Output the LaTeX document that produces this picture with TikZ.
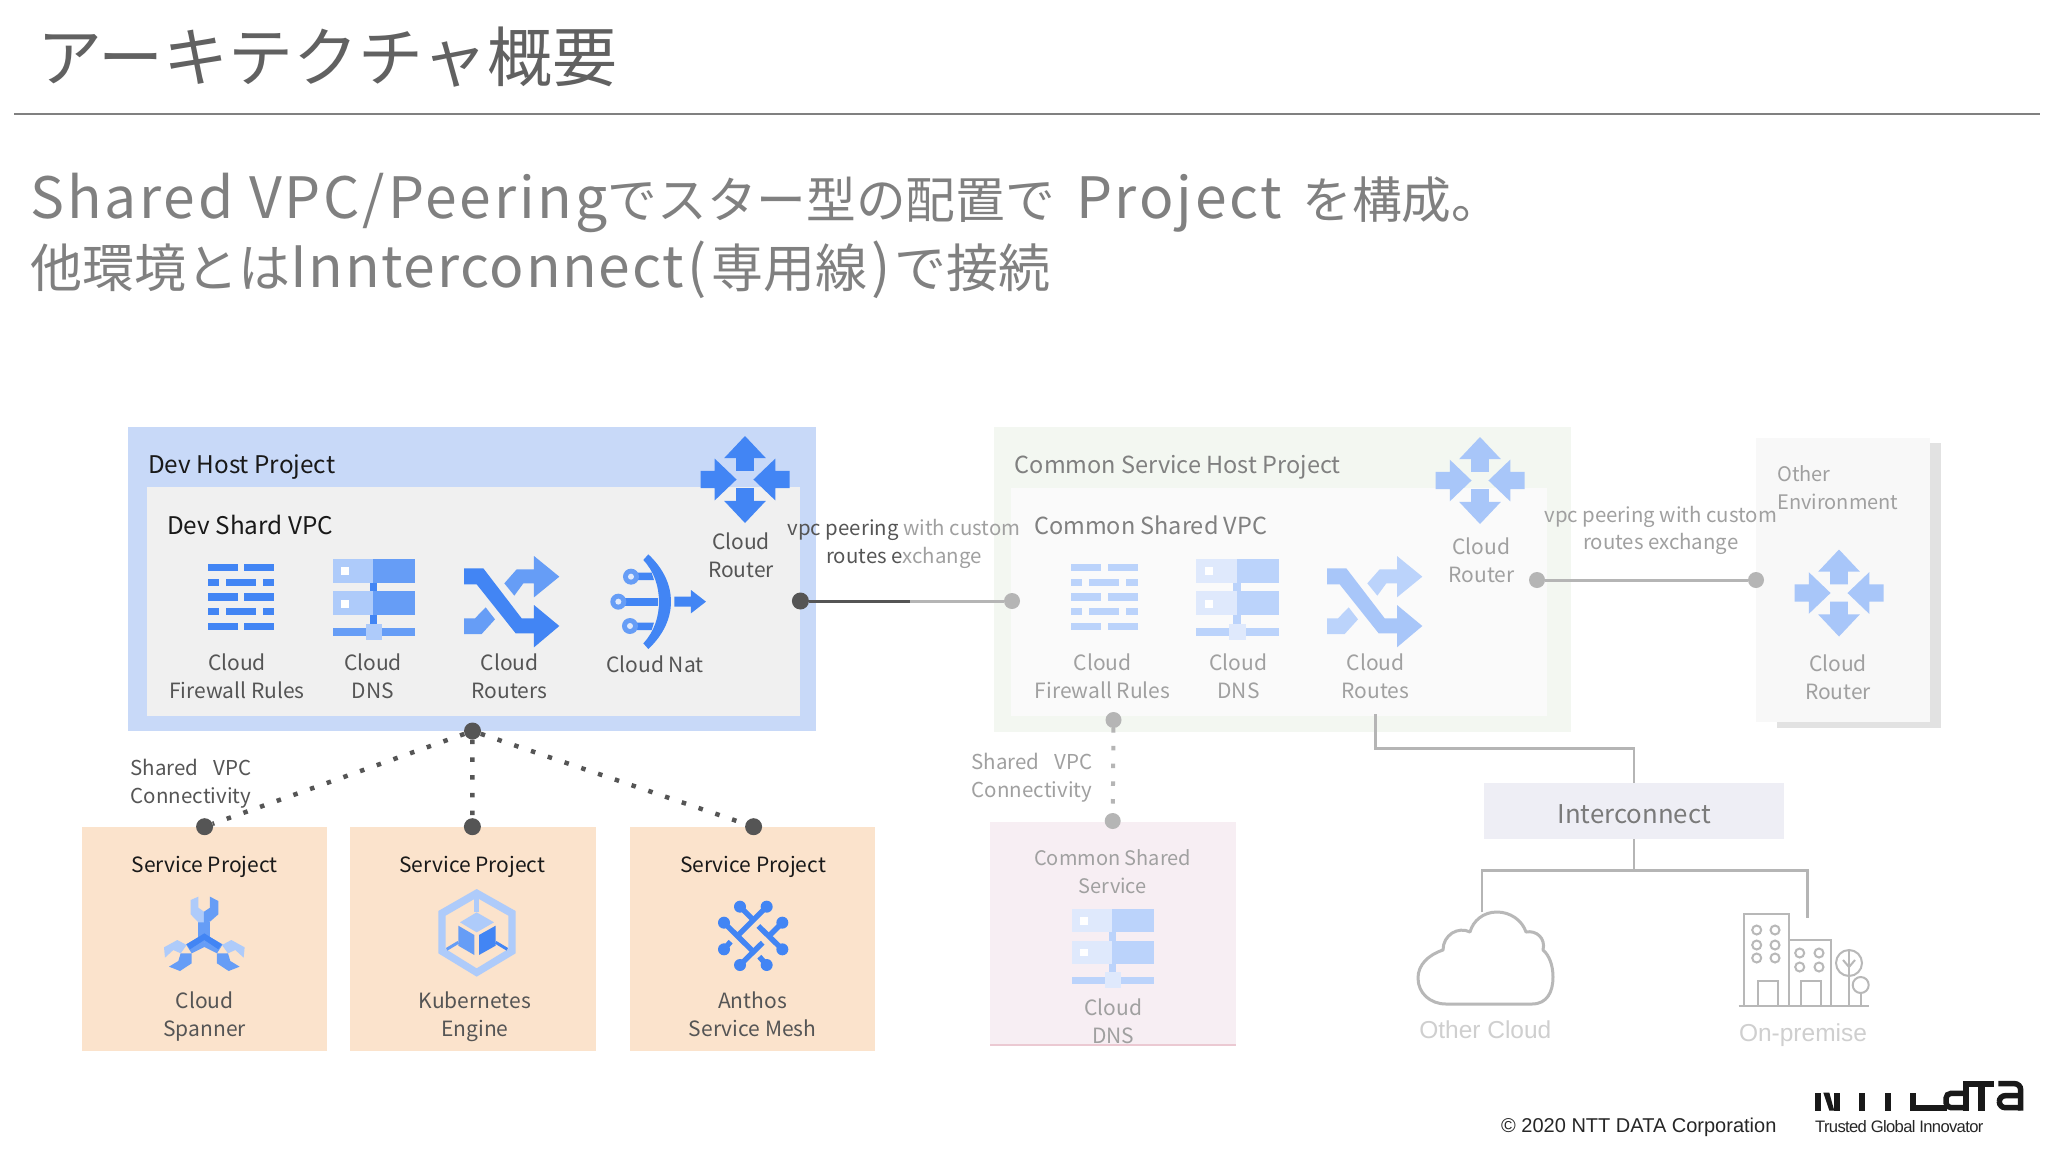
\documentclass[tikz,border=0pt]{standalone}
\usepackage{fontspec}
\setmainfont{Noto Sans CJK JP}
\newfontfamily\arialfont{Liberation Sans}
\definecolor{dk}{HTML}{4285F4}\definecolor{md}{HTML}{669DF6}\definecolor{lt}{HTML}{AECBFA}
\definecolor{dkb}{HTML}{A8C6F9}\definecolor{mdb}{HTML}{BBD3FB}\definecolor{ltb}{HTML}{DFE9FC}
\definecolor{hostblue}{HTML}{C8D9F8}\definecolor{vpcgray}{HTML}{F0F0F0}
\definecolor{hostgreen}{HTML}{F3F7F1}\definecolor{vpcpale}{HTML}{FAFAFA}
\definecolor{svc}{HTML}{FBE3CC}\definecolor{rosebox}{HTML}{F7EEF3}\definecolor{roseline}{HTML}{EBC9D2}
\definecolor{icbox}{HTML}{EEEEF5}\definecolor{envbox}{HTML}{F8F8F8}\definecolor{envshadow}{HTML}{E2E2E2}
\definecolor{dotdark}{HTML}{555555}\definecolor{dotlight}{HTML}{B5B5B5}
\definecolor{txd}{HTML}{555555}\definecolor{txl}{HTML}{A0A0A0}\definecolor{ghost}{HTML}{CFCFCF}
\newcommand{\sz}[2]{\fontsize{#1}{#2}\selectfont}
\newcommand{\lsp}[2]{{\fontsize{57}{60}\selectfont\addfontfeature{LetterSpace=#1}#2}}
\tikzset{
 lbl/.style={align=center,inner sep=0pt,text=txd,font=\sz{21}{28}},
 lbldim/.style={lbl,text=txl},
 head/.style={anchor=west,inner sep=0pt,text=black!90,font=\sz{24.3}{28}},
 headdim/.style={head,text=black!50,font=\sz{23.5}{28}},
 ddot/.style={circle,fill=dotdark,minimum size=17pt,inner sep=0pt},
 ldot/.style={circle,fill=dotlight,minimum size=16pt,inner sep=0pt},
 dline/.style={dotdark,line width=4.5pt,dash pattern=on 4.5pt off 13.2pt},
 dlinel/.style={dotlight,line width=4pt,dash pattern=on 4.5pt off 13.2pt},
 sline/.style={line width=2.5pt,draw=dotlight},
}
% four-arrow router icon
\newcommand{\iconrouter}[3]{\begin{scope}[shift={(#1,#2)},xscale=44.5,yscale=43.5]
 \fill[#3] (0,-1)--(.47,-.49)--(.2,-.49)--(.2,-.2)--(-.2,-.2)--(-.2,-.49)--(-.47,-.49)--cycle;
 \fill[#3] (0,1)--(.47,.49)--(.2,.49)--(.2,.2)--(-.2,.2)--(-.2,.49)--(-.47,.49)--cycle;
 \fill[#3] (-.19,0)--(-.68,.48)--(-.68,.2)--(-1,.2)--(-1,-.2)--(-.68,-.2)--(-.68,-.48)--cycle;
 \fill[#3] (.19,0)--(.68,.48)--(.68,.2)--(1,.2)--(1,-.2)--(.68,-.2)--(.68,-.48)--cycle;
\end{scope}}
% firewall bricks
\newcommand{\iconfw}[5]{\begin{scope}[shift={(#1,#2)},xscale=#3,yscale=#4]
 \foreach \r in {0,.4445,.889}{\fill[#5] (0,\r) rectangle (.453,\r+.111);\fill[#5] (.555,\r) rectangle (1,\r+.111);}
 \foreach \r in {.2222,.6667}{\fill[#5] (0,\r) rectangle (.168,\r+.111);\fill[#5] (.277,\r) rectangle (.723,\r+.111);\fill[#5] (.832,\r) rectangle (1,\r+.111);}
\end{scope}}
% DNS servers
\newcommand{\icondns}[7]{\begin{scope}[shift={(#1,#2)},xscale=#3,yscale=#4]
 \fill[#7] (0,0) rectangle (.49,.292);\fill[#6] (.49,0) rectangle (1,.292);
 \fill[#7] (0,.4) rectangle (.49,.695);\fill[#6] (.49,.4) rectangle (1,.695);
 \fill[white] (.1,.1) rectangle (.2,.2);\fill[white] (.1,.5) rectangle (.2,.6);
 \fill[#5] (.45,.292) rectangle (.54,.4);\fill[#5] (.45,.695) rectangle (.54,.85);
 \fill[#6] (0,.856) rectangle (1,.95);
 \fill[#7] (.4,.8) rectangle (.6,1);
\end{scope}}
% crossing arrows, zoom coordinates
\newcommand{\iconcross}[4]{\begin{scope}[shift={(#1,#2)},scale=.3333]
 \fill[#4] (148,100)--(185,58)--(237,58)--(237,18)--(313,80)--(237,142)--(237,100)--(205,100)--(178,137)--cycle;
 \fill[#4] (27,205)--(60,205)--(92,172)--(120,208)--(80,252)--(27,252)--cycle;
 \fill[#3] (27,55)--(85,55)--(200,205)--(237,205)--(237,165)--(313,228)--(237,292)--(237,250)--(182,250)--(65,103)--(27,103)--cycle;
\end{scope}}
\begin{document}
\begin{tikzpicture}[x=1pt,y=-1pt]
\useasboundingbox (0,0) rectangle (2048,1152);
\fill[white] (0,0) rectangle (2048,1152);
% header
\node[anchor=west,inner sep=0pt,text=black!62,font=\sz{65}{70}] (title) at (37,57) {アーキテクチャ概要};
\coordinate (ruleL) at (14,113.5);\coordinate (ruleR) at (2040,113.5);
\draw[line width=2pt,black!50] (ruleL)--(ruleR);
\node[anchor=west,inner sep=0pt,text=black!50,font=\sz{49.7}{60}] (sub1) at (30,203) {\lsp{5}{Shared VPC/Peering}でスター型の配置で\hspace{10pt} \lsp{5}{Project}\hspace{9pt} を構成。};
\node[anchor=west,inner sep=0pt,text=black!50,font=\sz{52}{60}] (sub2) at (30,270) {他環境とは\lsp{3}{Innterconnect}\hspace{4pt}\lsp{0}{(}\hspace{4pt}専用線\hspace{4pt}\lsp{0}{)}\hspace{4pt}で接続};
% panels
\fill[hostblue] (127.6,426.7) rectangle (816.4,731);
\fill[vpcgray] (147,486.7) rectangle (800.4,716);
\fill[hostgreen] (993.6,426.7) rectangle (1571.4,731.7);
\fill[vpcpale] (1011,488) rectangle (1547,716);
\fill[envshadow] (1776.8,443) rectangle (1940.7,728);
\fill[envbox] (1755.7,438.3) rectangle (1929.8,721.7);
\foreach \a/\b in {82/326.7,349.8/595.6,630.4/875.2}{\fill[svc] (\a,826.7) rectangle (\b,1051);}
\fill[rosebox] (990,821.7) rectangle (1235.5,1045);
\draw[roseline,line width=2pt] (990,1045)--(1235.5,1045);
% dev host
\node[head] (devhost) at (148,467) {Dev Host Project};
\node[head] (devvpc) at (167,525) {Dev Shard VPC};
\iconrouter{745}{479.5}{dk}
\node[lbl] (devrouter) at (741,555) {Cloud\\Router};
\iconfw{207.6}{564}{66.4}{66}{dk}
\icondns{333}{559}{81.6}{81}{dk}{md}{lt}
\iconcross{455}{550}{dk}{md}
% NAT icon
\begin{scope}[shift={(455,550)},scale=.3333]
 \fill[dk] (565,30)--(580,13) .. controls (630,60) and (648,110) .. (648,155) .. controls (648,205) and (625,255) .. (580,297)--(565,280) .. controls (598,245) and (612,200) .. (612,155) .. controls (612,110) and (598,65) .. (565,30)--cycle;
 \fill[dk] (510,143) rectangle (610,167);
 \fill[dk] (545,68)--(590,68)--(597,90)--(545,90)--cycle;
 \fill[dk] (545,218)--(597,218)--(590,240)--(545,240)--cycle;
 \foreach \cx/\cy in {528/80,490/155,525/228}{\fill[md] (\cx,\cy) circle (24);\fill[ltb] (\cx,\cy) circle (9);}
 \fill[dk] (658,140)--(708,140)--(708,120)--(753,155)--(708,190)--(708,170)--(658,170)--cycle;
\end{scope}
\node[lbl] (devfw) at (237,676.5) {Cloud\\Firewall Rules};
\node[lbl] (devdns) at (373,676.5) {Cloud\\DNS};
\node[lbl] (devrt) at (509.6,676.5) {Cloud\\Routers};
\node[lbl] (devnat) at (655,664) {Cloud Nat};
% common host
\node[headdim] (comhost) at (1014.6,467) {Common Service Host Project};
\node[headdim] (comvpc) at (1033.8,525) {Common Shared VPC};
\iconrouter{1480}{480.5}{dkb}
\node[lbldim] (comrouter) at (1481.5,560.5) {Cloud\\Router};
\iconfw{1070.8}{564}{66.9}{66}{mdb}
\icondns{1196.4}{559}{82.3}{81}{mdb}{mdb}{ltb}
\iconcross{1318}{550}{dkb}{mdb}
\node[lbldim] (comfw) at (1102.6,676.5) {Cloud\\Firewall Rules};
\node[lbldim] (comdns) at (1238.5,676.5) {Cloud\\DNS};
\node[lbldim] (comrt) at (1375.6,676.5) {Cloud\\Routes};
% other env
\node[anchor=west,lbldim,align=left,font=\sz{20}{28}] (otherenv) at (1777,488) {Other\\Environment};
\iconrouter{1839}{593}{dkb}
\node[lbldim] (envrouter) at (1838,677) {Cloud\\Router};
% peering
\node[ddot] (p1) at (800.4,601) {};
\node[ldot] (p2) at (1012,601) {};
\coordinate (pmid) at (910,601);
\draw[line width=3pt,dotdark] (p1)--(pmid);
\draw[line width=3pt,dotlight] (pmid)--(p2);
\node[lbl,font=\sz{20.4}{27.5}] (peer1) at (904,544) {vpc peering {\color{txl}with custom}\\routes e{\color{txl}xchange}};
\node[ldot] (p3) at (1537,580) {};
\node[ldot] (p4) at (1756,580) {};
\draw[line width=3pt,dotlight] (p3)--(p4);
\node[lbldim,font=\sz{20.4}{27.5}] (peer2) at (1660.7,530.5) {vpc peering with custom\\routes exchange};
% shared vpc left
\node[ddot] (hub) at (472.5,731) {};
\node[ddot] (s1) at (204.6,826.7) {};
\node[ddot] (s2) at (472.4,826.7) {};
\node[ddot] (s3) at (753.6,826.7) {};
\draw[dline] (hub)--(s1);\draw[dline] (hub)--(s2);\draw[dline] (hub)--(s3);
\node[lbl,font=\sz{20.5}{28}] (sharedl) at (191,784) {Shared\ \ \hspace{6pt}VPC\\Connectivity};
\node[lbl,text=black!90] (sp1) at (204.6,866.5) {Service Project};
\node[lbl,text=black!90] (sp2) at (472.4,866.5) {Service Project};
\node[lbl,text=black!90] (sp3) at (753,866.5) {Service Project};
\node[lbl] (spanner) at (204.6,1016.5) {Cloud\\Spanner};
\node[lbl] (gke) at (475,1016.5) {Kubernetes\\Engine};
\node[lbl] (anthos) at (752.6,1014.5) {Anthos\\Service Mesh};
% spanner icon
\begin{scope}[shift={(150,885)},scale=.3333]
 \fill[md] (145,112) rectangle (180,170);
 \fill[lt] (122,45)--(145,35)--(145,68)--(162,80)--(162,112)--(145,112)--(122,88)--cycle;
 \fill[md] (162,80)--(180,68)--(180,35)--(205,48)--(205,88)--(180,110)--(162,112)--cycle;
 \fill[md] (108,178)--(160,148)--(165,185)--(125,205)--cycle;
 \fill[md] (218,178)--(166,148)--(161,185)--(201,205)--cycle;
 \fill[lt] (42,187)--(82,165)--(110,180)--(92,205)--(70,195)--(45,218)--cycle;
 \fill[md] (92,205)--(125,205)--(125,235)--(90,258)--(57,245)--(85,228)--cycle;
 \fill[lt] (284,187)--(244,165)--(216,180)--(234,205)--(256,195)--(281,218)--cycle;
 \fill[md] (234,205)--(201,205)--(201,235)--(236,258)--(269,245)--(241,228)--cycle;
 \fill[dk] (163,145)--(215,178)--(205,193)--(163,165)--(120,193)--(110,178)--cycle;
\end{scope}
% GKE icon
\begin{scope}[shift={(425,885)},scale=.3333]
 \fill[lt,even odd rule] (155,12)--(272,78)--(272,205)--(155,275)--(40,205)--(40,78)--cycle (155,38)--(250,92)--(250,192)--(155,250)--(62,192)--(62,92)--cycle;
 \fill[lt] (148,38) rectangle (163,80);
 \fill[lt] (155,82)--(207,112)--(155,142)--(105,112)--cycle;
 \fill[md] (100,122)--(148,150)--(148,210)--(100,182)--cycle;
 \fill[dk] (162,150)--(212,122)--(212,182)--(162,210)--cycle;
 \draw[md,line width=3pt] (65,193)--(100,172);
 \draw[dk,line width=3pt] (212,172)--(247,193);
\end{scope}
% Anthos icon
\begin{scope}[shift={(700,890)},scale=.3333,line width=5.4pt]
 \draw[dk] (120,50)--(158,88);\draw[dk] (200,50)--(115,135);\draw[dk] (72,98)--(160,185);
 \draw[dk] (247,98)--(205,140);\draw[dk] (175,108)--(247,178);\draw[dk] (188,158)--(120,225);
 \draw[dk] (72,178)--(92,155);\draw[dk] (200,225)--(178,200);
 \foreach \cx/\cy in {120/50,200/50,72/98,247/98,72/178,247/178,120/225,200/225}{\fill[dk] (\cx,\cy) circle (18);}
\end{scope}
% shared vpc right
\node[ldot] (c1) at (1113.5,720) {};
\node[ldot] (c2) at (1112.7,821) {};
\draw[dlinel] (c1)--(c2);
\node[lbldim,font=\sz{20.5}{28}] (sharedr) at (1032,778) {Shared\ \ \hspace{6pt}VPC\\Connectivity};
\node[lbldim,font=\sz{20}{28}] (comsvc) at (1112.7,871.7) {Common Shared\\Service};
\icondns{1072}{909}{82}{79}{mdb}{mdb}{ltb}
\node[lbldim] (csdns) at (1113.4,1021.4) {Cloud\\DNS};
% interconnect
\node[minimum width=300.4pt,minimum height=55.7pt,inner sep=0pt,fill=icbox] (ic) at (1634.2,811.2) {};
\node[inner sep=0pt,text=black!52,font=\sz{25.8}{30}] (ictext) at (1634.2,814) {Interconnect};
\coordinate (rtfoot) at (1375.6,714);
\coordinate (j1) at (1634.2,748.5);
\draw[sline] (rtfoot)|-(j1)--(ic.north);
\coordinate (j2) at (1634.2,870.3);
\coordinate (cloudtop) at (1482,912);
\coordinate (bldtop) at (1807.3,918);
\draw[sline] (ic.south)--(j2);
\draw[sline] (cloudtop)|-(j2)-|(bldtop);
% cloud
\draw[line width=3pt,draw=black!28,line join=round] (1446,1004)--(1532,1004) .. controls (1547,1004) and (1553,992) .. (1553,977) .. controls (1553,965) and (1549,955) .. (1543,950) .. controls (1546,938) and (1536,930) .. (1526,932) .. controls (1522,920) and (1510,912) .. (1497,912) .. controls (1483,912) and (1473,921) .. (1470,932) .. controls (1458,926) and (1443,935) .. (1443,950) .. controls (1428,955) and (1418,965) .. (1418,978) .. controls (1418,993) and (1430,1004) .. (1446,1004)--cycle;
\node[inner sep=0pt,text=ghost,font=\arialfont\sz{24.5}{30}] (othercloud) at (1485.3,1030) {Other Cloud};
% buildings
\begin{scope}[line width=2pt]
 \draw[black!28] (1744,1006)--(1744,913.5)--(1789,913.5)--(1789,1006);
 \draw[black!28] (1789,940)--(1831,940)--(1831,1006);
 \draw[black!28,line width=2.5pt] (1738.6,1006)--(1869,1006);
 \foreach \cx/\cy in {1756.7/930,1775/930,1756.7/945,1775/945,1756.7/958,1775/958,1799.7/953,1819/953,1799.7/967,1819/967}{\draw[black!28] (\cx,\cy) circle (4.5);}
 \draw[black!28] (1758,1006)--(1758,981)--(1777.5,981)--(1777.5,1006);
 \draw[black!28] (1801,1006)--(1801,981)--(1820.5,981)--(1820.5,1006);
 \draw[black!28] (1849,963) circle (13);\draw[black!28] (1849,950)--(1849,1006);
 \draw[black!28] (1843,960)--(1849,967)--(1855,960);
 \draw[black!28] (1860.7,985) circle (8);\draw[black!28] (1860.7,993)--(1860.7,1006);
\end{scope}
\node[inner sep=0pt,text=ghost,font=\arialfont\sz{24.5}{30}] (onprem) at (1803,1035) {On-premise};
% footer
\node[anchor=west,inner sep=0pt,text=black!85,font=\arialfont\sz{20}{24}] (copy) at (1501,1127.7) {© 2020 NTT DATA Corporation};
\node[anchor=west,inner sep=0pt,text=black!85,font=\arialfont\sz{16.6}{20}\addfontfeature{LetterSpace=-4}] (tgi) at (1815,1126.7) {Trusted Global Innovator};
% logo (cut off at the top in the reference)
\begin{scope}[shift={(1790,1070)},scale=.3333]
 \fill[black!90] (75,68) rectangle (92,122);
 \fill[black!90] (100,68)--(118,68)--(128,105)--(133,122)--(118,122)--cycle;
 \fill[black!90] (133,68) rectangle (150,122);
 \fill[black!90] (207,68) rectangle (225,122);
 \fill[black!90] (285,68) rectangle (303,122);
 \fill[black!90] (360,68) rectangle (378,122);
 \fill[black!90] (360,105) rectangle (470,122);
 \fill[black!90] (518,32) rectangle (536,122);
 \draw[black!90,line width=5.5pt,rounded corners=5pt] (527,70)--(468,70)--(468,113)--(527,113);
 \fill[black!90] (536,32) rectangle (612,50);
 \fill[black!90] (565,50) rectangle (585,122);
 \draw[black!90,line width=5.5pt,rounded corners=6pt] (625,41)--(692,41)--(692,122);
 \draw[black!90,line width=5.5pt,rounded corners=6pt] (692,77)--(628,77)--(628,113)--(692,113);
\end{scope}
\end{tikzpicture}
\end{document}
